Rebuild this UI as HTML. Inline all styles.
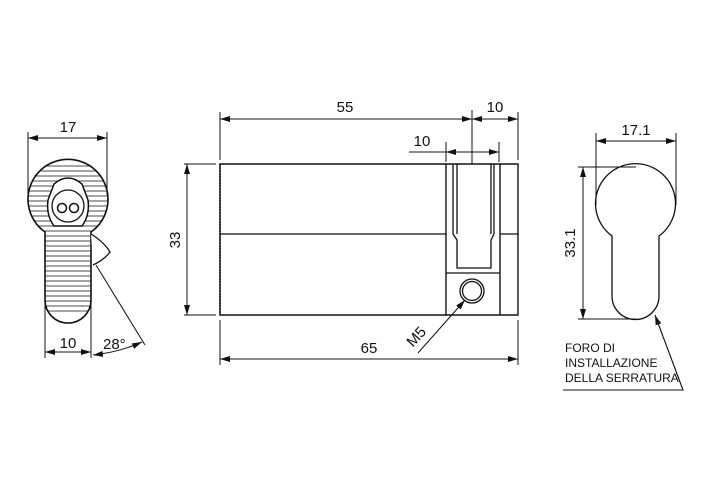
<!DOCTYPE html>
<html><head><meta charset="utf-8"><style>
body{margin:0;background:#fff}
svg{display:block}
text{font-family:"Liberation Sans",sans-serif;fill:#111}
</style></head><body>
<svg width="720" height="478" viewBox="0 0 720 478" xmlns="http://www.w3.org/2000/svg">
<defs>
<marker id="a" viewBox="0 0 10 6" refX="10" refY="3" markerWidth="10" markerHeight="6" orient="auto-start-reverse" markerUnits="userSpaceOnUse"><path d="M0,0L10,3L0,6z" fill="#111"/></marker>
<clipPath id="kc"><path d="M45,232 A40,40 0 1 1 91,232 L91,300 A23,23 0 0 1 45,300 Z"/></clipPath>
</defs>
<g stroke="#111" fill="none" stroke-width="1">
<g clip-path="url(#kc)" stroke-width="0.8">
<path d="M20,166h100M20,171h100M20,176h100M20,181h100M20,186h100M20,191h100M20,196h100M20,201h100M20,206h100M20,211h100M20,216h100M20,221h100M20,226h100M20,231h100M20,236h100M20,241h100M20,246h100M20,251h100M20,256h100M20,261h100M20,266h100M20,271h100M20,276h100M20,281h100M20,286h100M20,291h100M20,296h100M20,301h100M20,306h100M20,311h100"/>
</g>
<path d="M45,232 A40,40 0 1 1 91,232 L91,300 A23,23 0 0 1 45,300 Z" stroke-width="1.6"/>
<path d="M54,184 Q68,172 82,184 L88,200 Q90,215 82,226 L54,226 Q46,215 48,200 Z" fill="#fff" stroke-width="1.5"/>
<circle cx="68" cy="206" r="16" fill="#fff" stroke-width="1.3"/>
<circle cx="62" cy="208" r="4.5" stroke-width="1.5"/><circle cx="74" cy="208" r="4.5" stroke-width="1.5"/>
<path d="M91,234 Q104,242 110,252 Q104,260 93,265" fill="#fff" stroke-width="1.3"/>
<path d="M28,195V132M107,195V132M45,300V358M91,300V358M96,265L145,345"/>
<path d="M28,138H107" marker-start="url(#a)" marker-end="url(#a)"/>
<path d="M45,352H91" marker-start="url(#a)" marker-end="url(#a)"/>
<path d="M93,355 Q120,352 142,342" marker-start="url(#a)" marker-end="url(#a)"/>
<path d="M220,164H518V315H220Z" stroke-width="1.4"/>
<path d="M220,164V315" stroke-dasharray="2,1" stroke-width="1.5"/>
<path d="M220,234H446M500,234H518" stroke-width="1.3"/>
<path d="M446,164V315M500,164V315" stroke-width="1.4"/>
<path d="M453,164V234L457,240V268H491V240L494,234V164" stroke-width="1.3"/>
<path d="M457,164V234M491,164V234" stroke-width="1.3"/>
<path d="M446,273H500" stroke-width="1.3"/>
<circle cx="472" cy="291" r="12" stroke-width="1.3"/><circle cx="472" cy="291" r="9.5" stroke-width="1.3"/>
<path d="M220,160V112M518,160V112M472,164V110M446,162V142M499,162V142"/>
<path d="M220,119H472" marker-start="url(#a)" marker-end="url(#a)"/>
<path d="M472,119H518" marker-start="url(#a)" marker-end="url(#a)"/>
<path d="M409,152H446M446,152H499" />
<path d="M446,152H465" marker-start="url(#a)"/><path d="M480,152H499" marker-end="url(#a)"/>
<path d="M184,164H216M184,315H216"/>
<path d="M187,164V315" marker-start="url(#a)" marker-end="url(#a)"/>
<path d="M220,320V365M518,320V365"/>
<path d="M220,359H518" marker-start="url(#a)" marker-end="url(#a)"/>
<path d="M418,353L465,300" marker-end="url(#a)"/>
<path d="M612,236 A40,40 0 1 1 659,236 L659,296 A23.5,23.5 0 0 1 612,296 Z" stroke-width="1.3"/>
<path d="M596,205V133M676,205V133M578,167H636M578,319H636"/>
<path d="M596,141H676" marker-start="url(#a)" marker-end="url(#a)"/>
<path d="M583,167V319" marker-start="url(#a)" marker-end="url(#a)"/>
<path d="M563,390H683L655,315" />
<path d="M683,390L655,315" marker-end="url(#a)"/>
</g>
<text x="68" y="132" font-size="15" text-anchor="middle">17</text>
<text x="68" y="348" font-size="15" text-anchor="middle">10</text>
<text x="103" y="349" font-size="15">28°</text>
<text x="345" y="112" font-size="15" text-anchor="middle">55</text>
<text x="495" y="112" font-size="15" text-anchor="middle">10</text>
<text x="422" y="146" font-size="15" text-anchor="middle">10</text>
<text x="180" y="240" font-size="15" text-anchor="middle" transform="rotate(-90 180 240)">33</text>
<text x="369" y="353" font-size="15" text-anchor="middle">65</text>
<text x="420" y="340" font-size="15" text-anchor="middle" transform="rotate(-48 420 340)">M5</text>
<text x="636" y="135" font-size="15" text-anchor="middle">17.1</text>
<text x="575" y="243" font-size="15" text-anchor="middle" transform="rotate(-90 575 243)">33.1</text>
<text x="565" y="352" font-size="12">FORO DI</text>
<text x="565" y="367" font-size="12">INSTALLAZIONE</text>
<text x="565" y="382" font-size="12">DELLA SERRATURA</text>
</svg>
</body></html>
